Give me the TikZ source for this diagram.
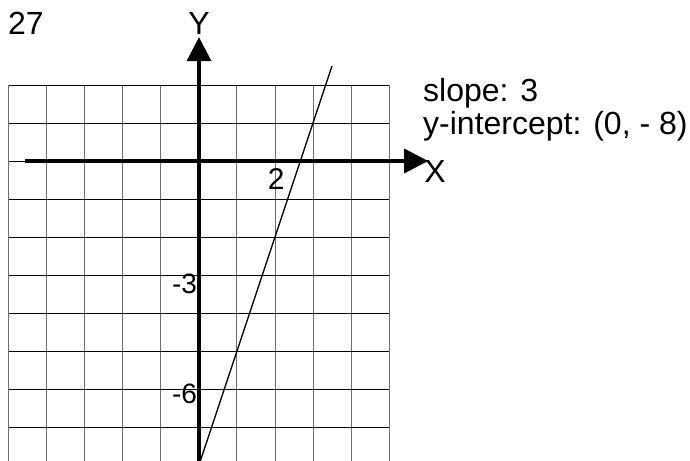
\documentclass[tikz,border=0pt]{standalone}
\usepackage{fontspec}
\setmainfont{Liberation Sans}
\usetikzlibrary{arrows.meta}
\definecolor{gridgray}{RGB}{110,110,110}

\begin{document}
\begin{tikzpicture}[x=38pt,y=38pt,
    axis/.style={line width=3.5pt,-{Triangle[length=24pt,width=24pt]}},
    lbl/.style={inner sep=0pt,font=\fontsize{32}{32}\selectfont},
    tick/.style={inner sep=0pt,font=\fontsize{28}{28}\selectfont}]
    \clip (-5.2368,-7.8947) rectangle (12.9211,4.2368);
    % grid
    \foreach \x in {-5,...,5}
      \draw[gridgray,line width=1pt] (\x,2) -- (\x,-8);
    \foreach \y in {2,1,...,-7}
      \draw[black,line width=0.9pt] (-5,\y) -- (5,\y);
    % axes
    \coordinate (xs) at (-4.58,0);
    \coordinate (xe) at (6.03,0);
    \coordinate (ys) at (0,-8);
    \coordinate (ye) at (0,3.26);
    \draw[axis] (xs) -- (xe);
    \draw[axis] (ys) -- (ye);
    % y = 3x - 8
    \coordinate (p) at (0,-8);
    \coordinate (q) at (3.5,2.5);
    \draw[line width=1.3pt] (p) -- (q);
    % labels
    \node[lbl,anchor=base west] (num) at (-5.026,3.316) {27};
    \node[lbl,anchor=base] (ylbl) at (0,3.316) {Y};
    \node[lbl,anchor=base] (xlbl) at (6.21,-0.553) {X};
    \node[tick,font=\fontsize{30}{30}\selectfont,anchor=base] (two) at (2.03,-0.737) {2};
    \node[tick,anchor=base east] (mthree) at (-0.05,-3.5) {-3};
    \node[tick,anchor=base east] (msix) at (-0.05,-6.39) {-6};
    \node[lbl,anchor=base west] (slope) at (5.895,1.56) {slope: 3};
    \node[lbl,anchor=base west] (icpt) at (5.895,0.7) {y-intercept: (0, - 8)};
\end{tikzpicture}
\end{document}
